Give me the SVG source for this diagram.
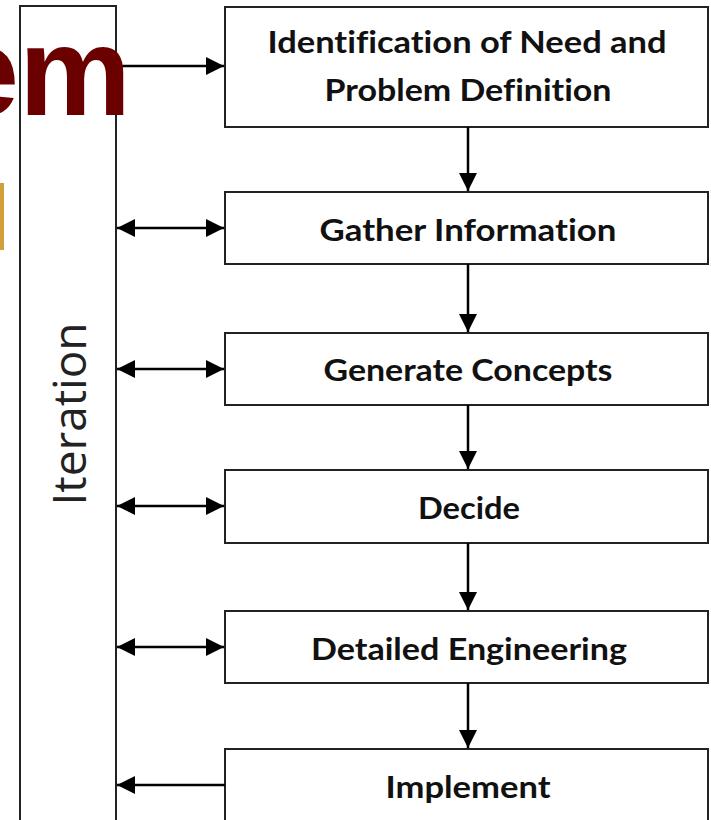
<svg xmlns="http://www.w3.org/2000/svg" width="711" height="820" viewBox="0 0 711 820">
  <defs>
    <marker id="ah" viewBox="0 0 18 18" refX="18" refY="9" markerWidth="18" markerHeight="18" markerUnits="userSpaceOnUse" orient="auto-start-reverse">
      <path d="M0,0 L18,9 L0,18 Z" fill="#000"/>
    </marker>
    <style>
      .box { fill: #fff; stroke: #222; stroke-width: 2; }
      .lbl { font-family: Lato, "Open Sans", "Liberation Sans", sans-serif; font-weight: bold; font-size: 31px; fill: #111; text-anchor: middle; font-variant-ligatures: none; }
      .conn { stroke: #000; stroke-width: 2.5; fill: none; }
    </style>
  </defs>
  <rect width="711" height="820" fill="#fff"/>

  <g id="iteration">
    <rect class="box" x="20" y="6" width="96" height="830"/>
    <text transform="translate(86,414) rotate(-90)" font-family="'Open Sans', 'Liberation Sans', sans-serif" font-size="46" fill="#222" text-anchor="middle" textLength="183" lengthAdjust="spacingAndGlyphs">Iteration</text>
  </g>

  <g id="n1">
    <rect class="box" x="225" y="7" width="483" height="120"/>
    <text class="lbl" x="467" y="53" textLength="399" lengthAdjust="spacingAndGlyphs">Identification of Need and</text>
    <text class="lbl" x="468" y="101" textLength="287" lengthAdjust="spacingAndGlyphs">Problem Definition</text>
  </g>
  <g id="n2">
    <rect class="box" x="225" y="192" width="483" height="72"/>
    <text class="lbl" x="468" y="241" textLength="297" lengthAdjust="spacingAndGlyphs">Gather Information</text>
  </g>
  <g id="n3">
    <rect class="box" x="225" y="333" width="483" height="72"/>
    <text class="lbl" x="468" y="381" textLength="289" lengthAdjust="spacingAndGlyphs">Generate Concepts</text>
  </g>
  <g id="n4">
    <rect class="box" x="225" y="470" width="483" height="73"/>
    <text class="lbl" x="469" y="519" textLength="102" lengthAdjust="spacingAndGlyphs">Decide</text>
  </g>
  <g id="n5">
    <rect class="box" x="225" y="611" width="483" height="72"/>
    <text class="lbl" x="469" y="660" textLength="316" lengthAdjust="spacingAndGlyphs">Detailed Engineering</text>
  </g>
  <g id="n6">
    <rect class="box" x="225" y="749" width="483" height="90"/>
    <text class="lbl" x="468" y="798" textLength="165" lengthAdjust="spacingAndGlyphs">Implement</text>
  </g>

  <g id="connectors">
    <line class="conn" x1="468" y1="127" x2="468" y2="191" marker-end="url(#ah)"/>
    <line class="conn" x1="468" y1="264" x2="468" y2="332" marker-end="url(#ah)"/>
    <line class="conn" x1="468" y1="405" x2="468" y2="469" marker-end="url(#ah)"/>
    <line class="conn" x1="468" y1="543" x2="468" y2="610" marker-end="url(#ah)"/>
    <line class="conn" x1="468" y1="683" x2="468" y2="748" marker-end="url(#ah)"/>

    <line class="conn" x1="116" y1="66" x2="224" y2="66" marker-end="url(#ah)"/>
    <line class="conn" x1="117" y1="228" x2="224" y2="228" marker-start="url(#ah)" marker-end="url(#ah)"/>
    <line class="conn" x1="117" y1="369" x2="224" y2="369" marker-start="url(#ah)" marker-end="url(#ah)"/>
    <line class="conn" x1="117" y1="506" x2="224" y2="506" marker-start="url(#ah)" marker-end="url(#ah)"/>
    <line class="conn" x1="117" y1="647" x2="224" y2="647" marker-start="url(#ah)" marker-end="url(#ah)"/>
    <line class="conn" x1="225" y1="785" x2="117" y2="785" marker-end="url(#ah)"/>
  </g>

  <g id="background-title">
    <text x="131" y="115" font-family="'Liberation Sans', Arial, sans-serif" font-weight="bold" font-size="126" fill="#6B0000" text-anchor="end">em</text>
    <rect x="0" y="183" width="4" height="67" fill="#D39E3C"/>
  </g>
</svg>
